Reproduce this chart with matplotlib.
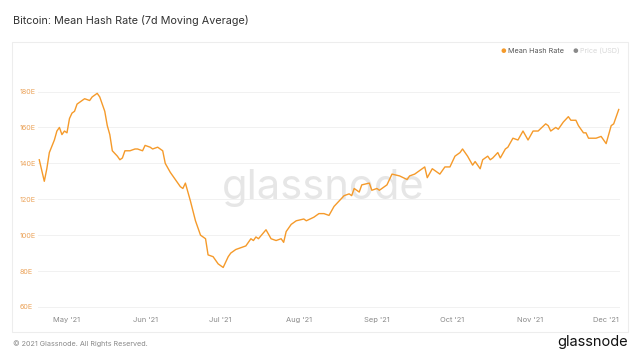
import pandas as pd
import matplotlib.pyplot as plt
import matplotlib.dates as mdates
from matplotlib.patches import Rectangle

plt.rcParams.update({
    'font.family': ['Inter', 'DejaVu Sans'],
    'figure.facecolor': 'white',
    'axes.facecolor': 'white',
})

# 7d moving average of the mean hash rate (EH/s)
dates = [
    '2021-04-20', '2021-04-22', '2021-04-23', '2021-04-24', '2021-04-26', '2021-04-27',
    '2021-04-28', '2021-04-29', '2021-04-30', '2021-05-01', '2021-05-02', '2021-05-03',
    '2021-05-04', '2021-05-05', '2021-05-07', '2021-05-08', '2021-05-10', '2021-05-11',
    '2021-05-13', '2021-05-14', '2021-05-16', '2021-05-17', '2021-05-18', '2021-05-19',
    '2021-05-21', '2021-05-22', '2021-05-23', '2021-05-24', '2021-05-26', '2021-05-28',
    '2021-05-29', '2021-05-31', '2021-06-01', '2021-06-03', '2021-06-04', '2021-06-06',
    '2021-06-07', '2021-06-08', '2021-06-09', '2021-06-11', '2021-06-12', '2021-06-13',
    '2021-06-15', '2021-06-16', '2021-06-17', '2021-06-19', '2021-06-21', '2021-06-23',
    '2021-06-25', '2021-06-26', '2021-06-28', '2021-06-29', '2021-06-30', '2021-07-02',
    '2021-07-03', '2021-07-04', '2021-07-05', '2021-07-07', '2021-07-09', '2021-07-11',
    '2021-07-13', '2021-07-14', '2021-07-15', '2021-07-16', '2021-07-19', '2021-07-21',
    '2021-07-23', '2021-07-25', '2021-07-26', '2021-07-27', '2021-07-29', '2021-07-31',
    '2021-08-03', '2021-08-04', '2021-08-07', '2021-08-09', '2021-08-11', '2021-08-13',
    '2021-08-15', '2021-08-17', '2021-08-19', '2021-08-21', '2021-08-22', '2021-08-23',
    '2021-08-25', '2021-08-26', '2021-08-29', '2021-08-30', '2021-09-01', '2021-09-02',
    '2021-09-05', '2021-09-07', '2021-09-10', '2021-09-13', '2021-09-14', '2021-09-16',
    '2021-09-20', '2021-09-21', '2021-09-23', '2021-09-26', '2021-09-28', '2021-09-30',
    '2021-10-02', '2021-10-04', '2021-10-05', '2021-10-07', '2021-10-09', '2021-10-10',
    '2021-10-12', '2021-10-13', '2021-10-15', '2021-10-16', '2021-10-17', '2021-10-19',
    '2021-10-20', '2021-10-22', '2021-10-23', '2021-10-25', '2021-10-27', '2021-10-29',
    '2021-10-31', '2021-11-02', '2021-11-04', '2021-11-07', '2021-11-08', '2021-11-09',
    '2021-11-11', '2021-11-12', '2021-11-14', '2021-11-16', '2021-11-17', '2021-11-19',
    '2021-11-20', '2021-11-22', '2021-11-23', '2021-11-24', '2021-11-27', '2021-11-29',
    '2021-12-01', '2021-12-03', '2021-12-04', '2021-12-06',
]
hash_rate = [
    142, 130, 137, 146, 153, 158,
    160, 156, 158, 157, 165, 168,
    169, 173, 175, 176, 175, 177,
    179, 177, 169, 161, 156, 147,
    144, 142, 143, 147, 147, 148,
    148, 147, 150, 149, 148, 149,
    148, 147, 140, 135, 133, 131,
    127, 126, 129, 119, 108, 100,
    98, 89, 88, 86, 84, 82,
    85, 88, 90, 92, 93, 94,
    98, 97, 99, 98, 103, 98,
    97, 98, 96, 102, 106, 108,
    109, 108, 110, 112, 112, 111,
    116, 119, 122, 123, 122, 126,
    124, 128, 129, 125, 126, 125,
    128, 134, 133, 131, 133, 134,
    138, 132, 137, 134, 138, 138,
    144, 146, 148, 144, 139, 141,
    137, 142, 144, 142, 143, 146,
    143, 148, 149, 154, 153, 158,
    153, 158, 158, 162, 161, 158,
    160, 159, 163, 166, 164, 164,
    161, 157, 157, 154, 154, 155,
    151, 161, 162, 170,
]

y_ticks = [60, 80, 100, 120, 140, 160, 180]
y_tick_labels = ['60E', '80E', '100E', '120E', '140E', '160E', '180E']
x_tick_dates = ['2021-05-01', '2021-06-01', '2021-07-01', '2021-08-01',
                '2021-09-01', '2021-10-01', '2021-11-01', '2021-12-01']
x_tick_labels = ["May '21", "Jun '21", "Jul '21", "Aug '21",
                 "Sep '21", "Oct '21", "Nov '21", "Dec '21"]

ORANGE = '#f59a2a'

fig = plt.figure(figsize=(6.4, 3.6), dpi=100)

# light frame around the chart area
fig.patches.append(Rectangle((12 / 640, 1 - 332 / 360), 616 / 640, 290 / 360,
                             transform=fig.transFigure, fill=False,
                             edgecolor='#ededed', linewidth=0.8))

ax = fig.add_axes([38 / 640, 1 - 310 / 360, 582 / 640, 240 / 360])

x = pd.to_datetime(dates)
ax.plot(x, hash_rate, color=ORANGE, linewidth=1.0, zorder=3)

ax.set_ylim(58.3, 192)
ax.set_xlim(pd.Timestamp('2021-04-19 12:00'), pd.Timestamp('2021-12-06 12:00'))

ax.set_yticks(y_ticks)
ax.set_yticklabels(y_tick_labels)
ax.set_xticks(pd.to_datetime(x_tick_dates))
ax.set_xticklabels(x_tick_labels)

ax.tick_params(axis='y', length=0, pad=13, labelsize=5.2, labelcolor='#eba35a')
for lbl in ax.get_yticklabels():
    lbl.set_horizontalalignment('left')
ax.tick_params(axis='x', length=0, pad=5, labelsize=5.4, labelcolor='#8a8a8a')

ax.grid(axis='y', color='#f1f1f1', linewidth=0.7)
ax.set_axisbelow(True)
for s in ax.spines.values():
    s.set_visible(False)

# watermark
ax.text(0.49, 0.51, 'glassnode', transform=ax.transAxes, ha='center', va='center',
        fontsize=30, color='#e6e6e6', zorder=1)

# legend
fig.text(503 / 640, 1 - 51 / 360, '●', color=ORANGE, fontsize=4.5, ha='center', va='center')
fig.text(508 / 640, 1 - 51 / 360, 'Mean Hash Rate', color='#555555', fontsize=5.2, va='center')
fig.text(575 / 640, 1 - 51 / 360, '●', color='#8a8a8a', fontsize=4.5, ha='center', va='center')
fig.text(580 / 640, 1 - 51 / 360, 'Price (USD)', color='#d8d8d8', fontsize=5.2, va='center')

# title and footer
fig.text(13 / 640, 1 - 20 / 360, 'Bitcoin: Mean Hash Rate (7d Moving Average)',
         fontsize=7.8, color='#333333', va='center')
fig.text(13 / 640, 1 - 344 / 360, '© 2021 Glassnode. All Rights Reserved.',
         fontsize=5.2, color='#8a8a8a', va='center')
fig.text(628 / 640, 1 - 342 / 360, 'glassnode', fontsize=10.5, color='#111111',
         ha='right', va='center')

fig.savefig('out.png', dpi=100)
